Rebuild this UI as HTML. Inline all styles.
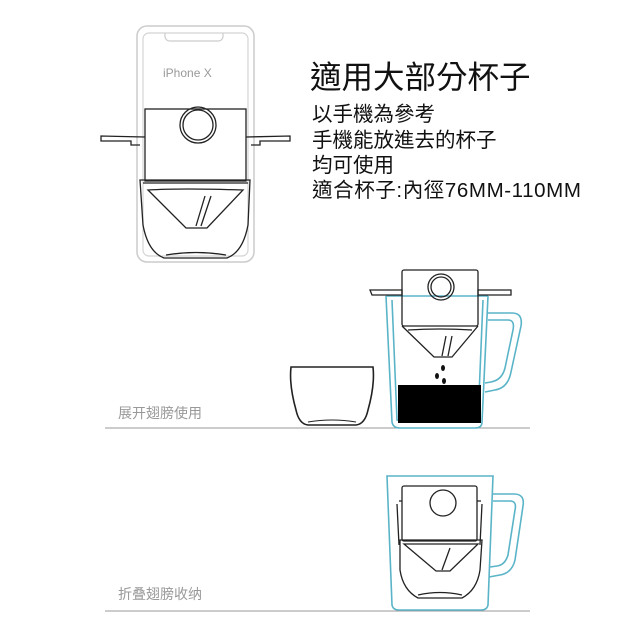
<!DOCTYPE html>
<html><head><meta charset="utf-8"><style>
html,body{margin:0;padding:0;background:#fff;}
svg{display:block;}
text{font-family:"Liberation Sans","Noto Sans CJK TC",sans-serif;}
</style></head><body>
<svg width="640" height="640" viewBox="0 0 640 640" xmlns="http://www.w3.org/2000/svg">
<!-- Section 1: phone -->
<rect x="137" y="26" width="117" height="236" rx="10" fill="none" stroke="#ccc" stroke-width="1.5"/>
<rect x="143" y="33" width="105" height="223" rx="6" fill="none" stroke="#d4d4d4" stroke-width="1.2"/>
<path d="M165 33 L165 37 Q166 41 170 41 L218 41 Q222 41 223 37 L223 33" fill="none" stroke="#ccc" stroke-width="1.2"/>
<text x="163" y="77" font-size="12" fill="#999">iPhone X</text>
<g fill="none" stroke="#222" stroke-width="1.3">
<rect x="145" y="109" width="101" height="72"/>
<circle cx="198" cy="125" r="18"/>
<circle cx="198" cy="125" r="15"/>
<path d="M145 137 L101 136 L101 141 L131 141 L131 145 L140 145"/>
<path d="M246 137 L290 136 L290 141 L260 141 L260 145 L251 145"/>
<path d="M140 180 L250 180 L248 225 Q243 252 227 258 L164 258 Q148 252 143 225 Z"/>
<path d="M143 183 L248 183 M148 190 Q180 188 243 190 L207 228 L186 228 Z"/>
<path d="M205 196 L196 226 M211 196 L201 226"/>
<path d="M166 255 Q196 250 226 255"/>
</g>
<!-- text -->
<text x="310" y="88" font-size="31.5" fill="#111">適用大部分杯子</text>
<text x="312" y="121" font-size="20.5" fill="#111">以手機為參考</text>
<text x="312" y="147" font-size="20.5" fill="#111">手機能放進去的杯子</text>
<text x="312" y="172" font-size="20.5" fill="#111">均可使用</text>
<text x="312" y="197" font-size="20.5" fill="#111" letter-spacing="0.6">適合杯子:內徑76MM-110MM</text>

<!-- Section 2 -->
<text x="118" y="418" font-size="14" fill="#999">展开翅膀使用</text>
<line x1="105" y1="428" x2="530" y2="428" stroke="#999" stroke-width="1"/>
<path d="M291 367 L373 367 Q375 385 368 410 Q365 424 356 425 L308 425 Q299 424 296 410 Q289 385 291 367 Z" fill="none" stroke="#222" stroke-width="1.6"/>
<path d="M308 422 Q332 418 356 422" fill="none" stroke="#222" stroke-width="1"/>
<g fill="none" stroke="#5ab4c8" stroke-width="1.6">
<path d="M386 296 L392 422 Q393 428 400 428 L475 428 Q482 428 482 422 L488 296"/>
<path d="M392 300 L397 420 L478 420 L483 300"/>
<path d="M487 313 L512 313 Q523 313 521 326 L511 372 Q508 388 495 390 L485 392"/>
<path d="M488 320 L508 320 Q515 320 513 330 L505 368 Q502 380 491 382 L485 383"/>
<line x1="386" y1="296" x2="488" y2="296"/>
</g>
<rect x="398" y="385" width="83" height="38" fill="#000"/>
<g fill="none" stroke="#222" stroke-width="1.3">
<rect x="402" y="270" width="76" height="56" rx="2"/>
<circle cx="441" cy="287" r="13"/>
<circle cx="441" cy="287" r="10"/>
<path d="M370 290 L402 290 L402 295 L372 295 Z"/>
<path d="M478 290 L511 290 L511 295 L478 295 Z"/>
<path d="M402 326 L434 357 L452 357 L478 326"/>
<path d="M408 330 Q440 328 472 330"/>
<path d="M446 336 L442 356 M452 336 L448 356"/>
</g>
<g fill="#111">
<ellipse cx="443" cy="368" rx="2" ry="3"/>
<ellipse cx="437" cy="376" rx="2" ry="3"/>
<ellipse cx="444" cy="381" rx="2" ry="3"/>
</g>

<!-- Section 3 -->
<text x="118" y="599" font-size="14" fill="#999">折叠翅膀收纳</text>
<line x1="105" y1="611" x2="530" y2="611" stroke="#999" stroke-width="1"/>
<g fill="none" stroke="#5ab4c8" stroke-width="1.6">
<path d="M387 476 L493 476 L488 605 Q487 610 481 610 L399 610 Q393 610 392 605 Z"/>
<path d="M493 494 L514 494 Q525 494 523 506 L515 560 Q512 573 500 575 L489 577"/>
<path d="M493 501 L510 501 Q517 501 515 510 L508 555 Q505 565 497 566 L490 567"/>
</g>
<g fill="none" stroke="#222" stroke-width="1.3">
<rect x="402" y="486" width="75" height="55" rx="2"/>
<circle cx="443" cy="503" r="13"/>
<path d="M399 501 L402 501 M477 501 L481 501"/>
<path d="M397 504 L399 545 M482 504 L480 545"/>
<path d="M400 540 L482 540 L480 570 Q477 590 462 598 L418 598 Q403 590 400 570 Z"/>
<path d="M404 544 L478 544 L450 571 L436 571 Z"/>
<path d="M450 548 L442 570"/>
<path d="M418 595 Q440 590 462 595"/>
</g>
</svg>
</body></html>
